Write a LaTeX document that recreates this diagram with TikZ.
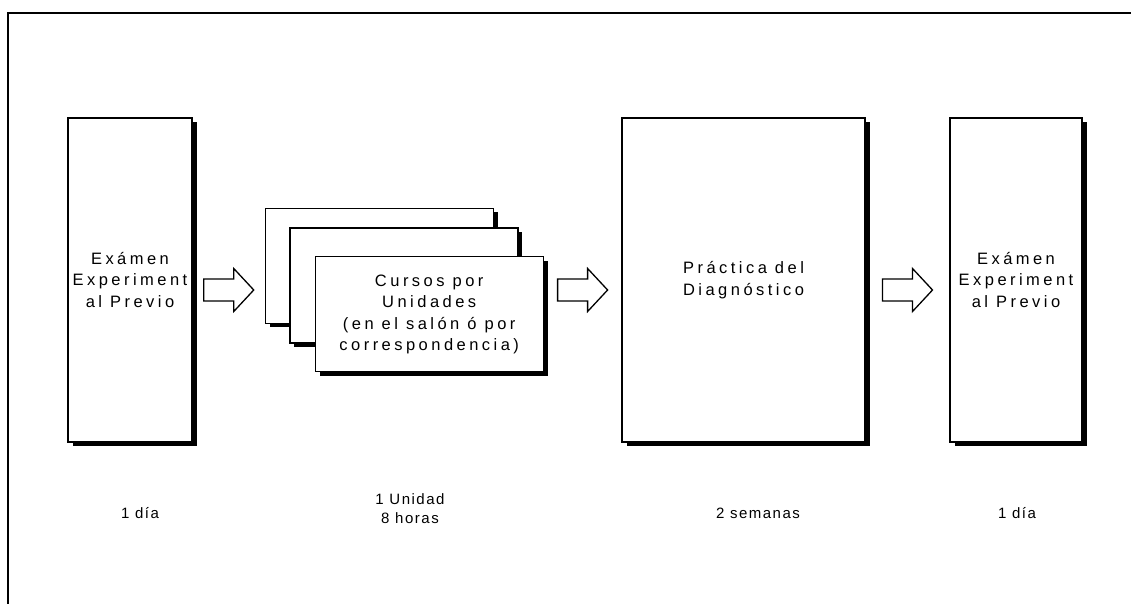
\documentclass[tikz,border=0pt]{standalone}
\usepackage{fontspec}
\setmainfont{Liberation Sans}[LetterSpace=21]
\newfontfamily\lblfont{Liberation Sans}[LetterSpace=10]
\usetikzlibrary{calc, positioning, shadows}

% block arrow half way between two boxes, at the height of the row
\newcommand{\fatarrow}[2]{%
  \path ($(#1.east)!0.5!(#2.west)$) coordinate (m);
  \draw[fatarr] ($(m |- b1.east)+(-25,-1)$) -- ++(30,0) -- ++(0,-10.5) -- ++(20,21.5)
    -- ++(-20,21.5) -- ++(0,-10.5) -- ++(-30,0) -- cycle;}

\begin{document}
\begin{tikzpicture}[x=1pt, y=-1pt,
  phase/.style={draw=black, line width=1.4pt, fill=white,
                drop shadow={opacity=1, fill=black, shadow xshift=4.5pt, shadow yshift=-4pt},
                inner sep=0pt, minimum height=#1, align=center,
                font=\fontsize{16.5}{21.5}\selectfont},
  phase/.default=324pt,
  sheet/.style={phase=115pt, minimum width=228pt},
  dur/.style={align=center, font=\lblfont\fontsize{15}{19}\selectfont},
  fatarr/.style={draw=black, line width=1.3pt, fill=white, line join=miter}]
  \useasboundingbox (0,0) rectangle (1131,604);
  % frame
  \draw[line width=2.2pt] (8,604) -- (8,13) -- (1131,13);
  % phases
  \node[phase, minimum width=124pt] (b1) at (130,280) {Exámen\\ Experiment\\ al Previo};
  \node[sheet] (s1) at (379.5,265.7) {};
  \node[sheet] (s2) at (403.8,285.5) {};
  \node[sheet] (s3) at (429.2,314.2) {Cursos por\\ Unidades\\ (en el salón ó por\\ correspondencia)};
  \node[phase, minimum width=243pt] (b3) at (743.5,280) {Práctica del\\ Diagnóstico};
  \node[phase, minimum width=132pt] (b4) at (1016,280) {Exámen\\ Experiment\\ al Previo};
  % arrows
  \fatarrow{b1}{s1}
  \fatarrow{s3}{b3}
  \fatarrow{b3}{b4}
  % durations
  \node[dur] (d1) at (140,513) {1 día};
  \node[dur] (d2) at (410,509) {1 Unidad\\ 8 horas};
  \node[dur] (d3) at (758,513) {2 semanas};
  \node[dur] (d4) at (1017,513) {1 día};
\end{tikzpicture}
\end{document}
